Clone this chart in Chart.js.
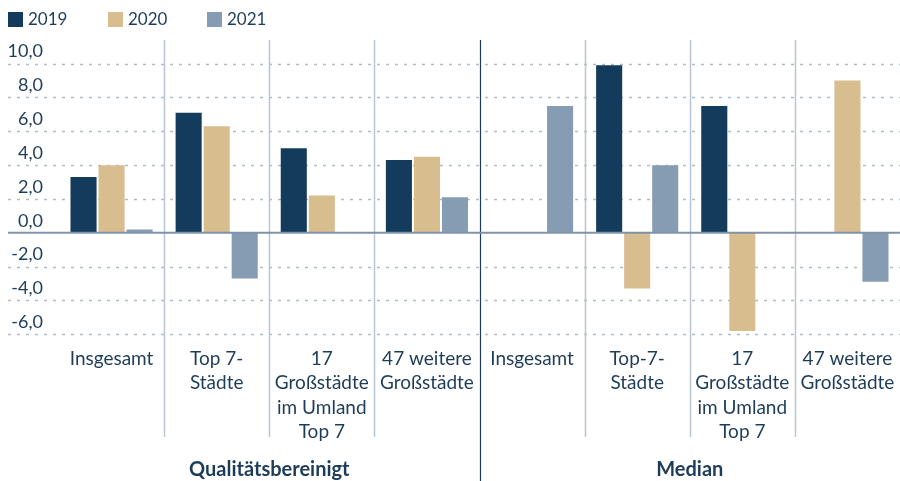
<!DOCTYPE html>
<html>
<head>
<meta charset="utf-8">
<script src="https://cdn.jsdelivr.net/npm/chart.js@4/dist/chart.umd.min.js"></script>
<style>
  html, body { margin: 0; padding: 0; background: #ffffff; }
  #c { display: block; }
</style>
</head>
<body>
<canvas id="c" width="900" height="481"></canvas>
<script>
const categories = [
  ["Insgesamt"],
  ["Top 7-", "Städte"],
  ["17", "Großstädte", "im Umland", "Top 7"],
  ["47 weitere", "Großstädte"],
  ["Insgesamt"],
  ["Top-7-", "Städte"],
  ["17", "Großstädte", "im Umland", "Top 7"],
  ["47 weitere", "Großstädte"]
];
const seriesLabels = ["2019", "2020", "2021"];
const values2019 = [3.3, 7.1, 5.0, 4.3, 0, 9.9, 7.5, 0];
const values2020 = [4.0, 6.3, 2.2, 4.5, 0, -3.3, -5.8, 9.0];
const values2021 = [0.2, -2.7, 0, 2.1, 7.5, 4.0, 0, -2.9];
const yTicks = [-6, -4, -2, 0, 2, 4, 6, 8, 10];
const groupLabels = ["Qualitätsbereinigt", "Median"];

const NAVY = '#1d3c5a';
const COLORS = ['#133b5c', '#d8bd8f', '#869cb3'];
const FONT = 'Lato, "Open Sans", sans-serif';

const decor = {
  id: 'decor',
  beforeDatasetsDraw(chart) {
    const { ctx, chartArea, scales: { x, y } } = chart;
    ctx.save();
    ctx.setLineDash([3, 6]);
    ctx.strokeStyle = '#aebccb';
    ctx.lineWidth = 1.5;
    yTicks.forEach(v => {
      if (v === 0) return;
      const py = Math.round(y.getPixelForValue(v)) + 0.5;
      ctx.beginPath();
      ctx.moveTo(y.left, py);
      ctx.lineTo(chartArea.right, py);
      ctx.stroke();
    });
    ctx.setLineDash([]);
    const n = categories.length;
    for (let i = 1; i < n; i++) {
      const px = Math.round((x.getPixelForValue(i - 1) + x.getPixelForValue(i)) / 2) + 0.5;
      const mid = i === n / 2;
      ctx.strokeStyle = mid ? NAVY : '#b8c5d3';
      ctx.lineWidth = mid ? 1.2 : 1.5;
      ctx.beginPath();
      ctx.moveTo(px, chartArea.top);
      ctx.lineTo(px, mid ? chart.height : chart.height - 44);
      ctx.stroke();
    }
    ctx.restore();
  },
  afterDatasetsDraw(chart) {
    const { ctx, chartArea, scales: { y } } = chart;
    ctx.save();
    const py = y.getPixelForValue(0);
    ctx.strokeStyle = '#7f93a8';
    ctx.lineWidth = 2;
    ctx.beginPath();
    ctx.moveTo(y.left, py);
    ctx.lineTo(chartArea.right, py);
    ctx.stroke();
    ctx.restore();
  },
  afterDraw(chart) {
    const { ctx, scales: { x } } = chart;
    ctx.save();
    const legendX = [8, 108, 207];
    ctx.font = '17px ' + FONT;
    ctx.textBaseline = 'middle';
    ctx.textAlign = 'left';
    chart.data.datasets.forEach((ds, i) => {
      ctx.fillStyle = ds.backgroundColor;
      ctx.fillRect(legendX[i], 12, 15, 15);
      ctx.fillStyle = NAVY;
      ctx.fillText(ds.label, legendX[i] + 20, 20);
    });
    ctx.font = 'bold 20px ' + FONT;
    ctx.textAlign = 'center';
    const half = categories.length / 2;
    groupLabels.forEach((g, gi) => {
      const a = x.getPixelForValue(gi * half);
      const b = x.getPixelForValue(gi * half + half - 1);
      ctx.fillText(g, (a + b) / 2, 470);
    });
    ctx.restore();
  }
};

new Chart(document.getElementById('c'), {
  type: 'bar',
  data: {
    labels: categories,
    datasets: [
      { label: seriesLabels[0], data: values2019, backgroundColor: COLORS[0] },
      { label: seriesLabels[1], data: values2020, backgroundColor: COLORS[1] },
      { label: seriesLabels[2], data: values2021, backgroundColor: COLORS[2] }
    ]
  },
  options: {
    responsive: false,
    animation: false,
    devicePixelRatio: 1,
    layout: { padding: { left: 8, right: 0, top: 40, bottom: 33 } },
    datasets: { bar: { categoryPercentage: 0.8, barPercentage: 0.93 } },
    plugins: { legend: { display: false }, tooltip: { enabled: false } },
    scales: {
      x: {
        type: 'category',
        offset: true,
        grid: { display: false, drawTicks: false },
        border: { display: false },
        ticks: {
          color: NAVY,
          font: { family: FONT, size: 19, lineHeight: 1.28 },
          padding: 4,
          maxRotation: 0,
          autoSkip: false
        }
      },
      y: {
        min: -6.5,
        max: 11.4,
        afterBuildTicks(scale) { scale.ticks = yTicks.map(v => ({ value: v })); },
        afterFit(scale) { scale.width = 51; },
        grid: { display: false, drawTicks: false },
        border: { display: false },
        ticks: {
          color: NAVY,
          font: { family: FONT, size: 18 },
          padding: 16,
          labelOffset: -12,
          callback: v => v.toFixed(1).replace('.', ',')
        }
      }
    }
  },
  plugins: [decor]
});
</script>
</body>
</html>
